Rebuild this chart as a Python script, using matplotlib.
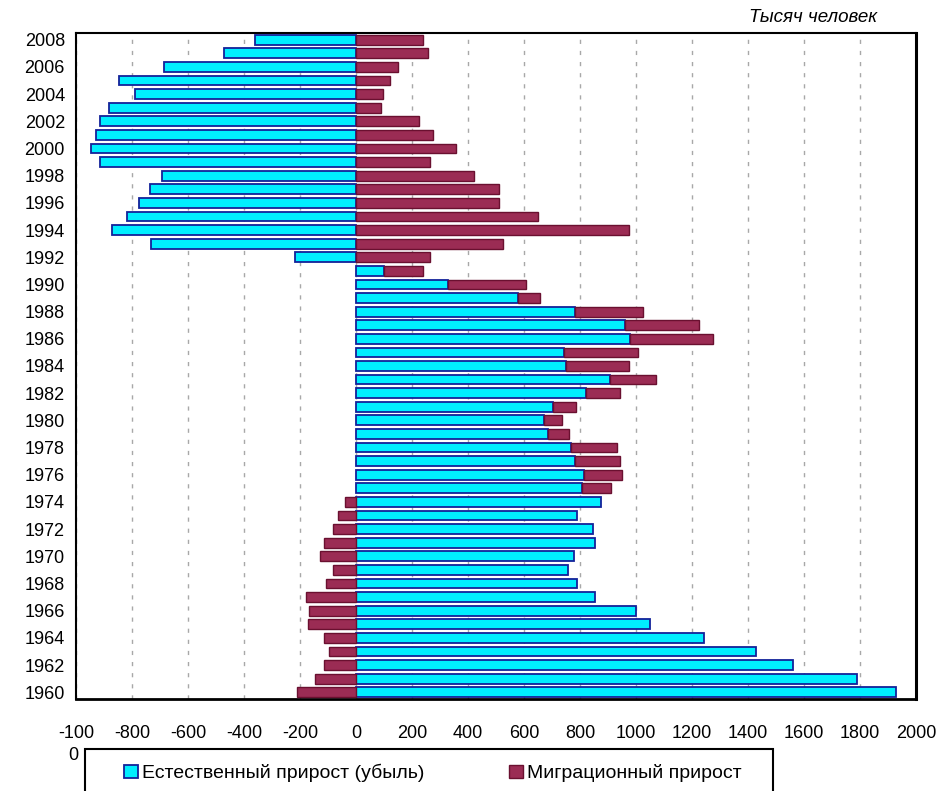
import matplotlib
matplotlib.use("Agg")
import numpy as np
import matplotlib.pyplot as plt
from matplotlib.patches import Patch, Rectangle

plt.rcParams['font.family'] = ['Liberation Sans', 'DejaVu Sans']

# natural increase and migration, thousand people, 1960..2008
years = list(range(1960, 2009))
natural = [1929, 1788, 1560, 1427, 1242, 1051, 999, 854, 791, 758,
           777, 854, 848, 791, 874, 806, 813, 782, 768, 686,
           673, 705, 820, 908, 750, 744, 979, 961, 782, 578,
           329, 100, -217, -731, -870, -819, -776, -737, -693, -915,
           -948, -929, -915, -883, -788, -845, -687, -470, -362]
migration = [-210, -148, -115, -96, -115, -173, -167, -179, -108, -83,
             -129, -114, -83, -64, -40, 106, 138, 162, 163, 74,
             62, 81, 124, 163, 226, 263, 296, 263, 244, 79,
             277, 138, 264, 524, 976, 651, 511, 511, 421, 264,
             358, 276, 225, 90, 98, 123, 149, 257, 238]
xticks = [-1000, -800, -600, -400, -200, 0, 200, 400, 600, 800,
          1000, 1200, 1400, 1600, 1800, 2000]
xtick_labels = ['-100', '-800', '-600', '-400', '-200', '0', '200', '400', '600', '800',
                '1000', '1200', '1400', '1600', '1800', '2000']
legend_labels = ['Естественный прирост (убыль)', 'Миграционный прирост']

nat = np.array(natural, dtype=float)
mig = np.array(migration, dtype=float)
mig_left = np.where((nat > 0) & (mig > 0), nat, 0)

cyan = '#00EEFF'
cyan_edge = '#13229A'
red = '#9B2C54'
red_edge = '#6A1030'

fig = plt.figure(figsize=(9.39, 7.91), dpi=100)
ax = fig.add_axes([76/939, 1 - 699/791, 840/939, 666/791])

ax.barh(years, nat, height=0.72, color=cyan, edgecolor=cyan_edge, linewidth=1.3, zorder=3)
ax.barh(years, mig, left=mig_left, height=0.72, color=red, edgecolor=red_edge,
        linewidth=1.0, zorder=3)

ax.set_xlim(-1000, 2000)
ax.set_ylim(1959.5, 2008.5)
ax.set_xticks(xticks)
ax.set_xticklabels(xtick_labels)
ax.set_yticks(years[::2])
ax.tick_params(axis='both', length=0, labelsize=13)
ax.tick_params(axis='x', pad=19)
ax.tick_params(axis='y', pad=8)
ax.grid(axis='x', color='#A8A8A8', linestyle=(0, (3, 5)), linewidth=1.0, zorder=0)
for s in ax.spines.values():
    s.set_linewidth(1.5)
    s.set_color('black')
ax.spines['right'].set_linewidth(2.2)
ax.spines['bottom'].set_linewidth(2.0)

fig.text(877/939, 1 - 18/791, 'Тысяч человек', ha='right', va='center',
         fontsize=13.5, style='italic')
fig.text(73/939, 1 - 756/791, '0', ha='center', va='center', fontsize=13)

# legend box, running off the bottom edge as in the source picture
fig.patches.append(Rectangle((85/939, -0.05), 688/939, 0.05 + 1 - 749/791,
                             transform=fig.transFigure, facecolor='white',
                             edgecolor='black', linewidth=1.5, zorder=1))
handles = [Patch(facecolor=cyan, edgecolor=cyan_edge, linewidth=1.3),
           Patch(facecolor=red, edgecolor=red_edge, linewidth=1.0)]
leg = fig.legend(handles, legend_labels, loc='center left',
                 bbox_to_anchor=(124/939, 1 - 773/791),
                 ncol=2, fontsize=14, frameon=False,
                 handlelength=0.7, handleheight=0.7, handletextpad=0.2,
                 columnspacing=4.4, borderpad=0, borderaxespad=0)
leg.set_zorder(2)

fig.savefig('out.png', dpi=100)
